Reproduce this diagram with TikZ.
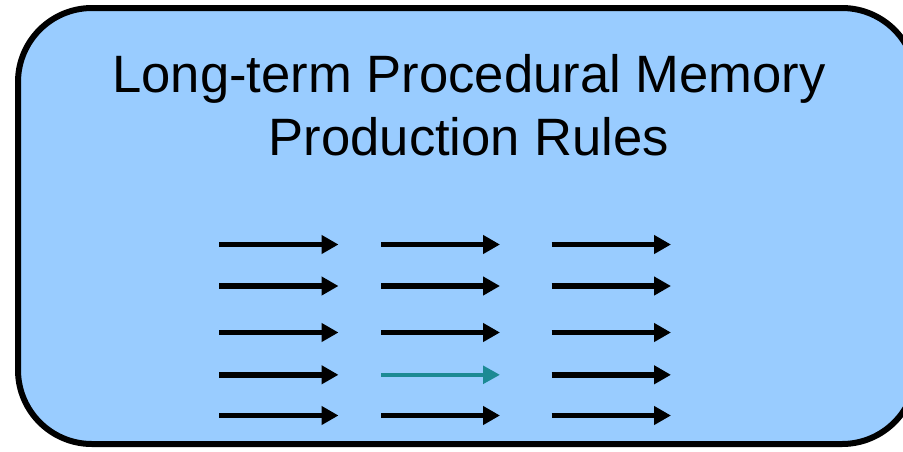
\documentclass[tikz,border=0pt]{standalone}
\usepackage{fontspec}
\setmainfont{Liberation Sans}
\usetikzlibrary{arrows.meta}
\definecolor{memfill}{RGB}{153,204,255}
\definecolor{firedrule}{RGB}{28,138,148}
\tikzset{
  membox/.style={draw=black, line width=6pt, fill=memfill, rounded corners=74pt},
  rule/.style={draw=black, line width=5.5pt,
    -{Triangle[length=17pt, width=18pt]}},
  firedarrow/.style={draw=firedrule, line width=4pt,
    -{Triangle[length=17pt, width=17.5pt]}},
  titletext/.style={font=\fontsize{52.6}{62.8}\selectfont, align=center,
    anchor=base, inner sep=0pt}
}
\begin{document}
\begin{tikzpicture}[x=1pt, y=-1pt]
  \useasboundingbox (0,0) rectangle (903,451);
  \clip (0,0) rectangle (903,451);
  % memory store outline
  \draw[membox] (18,8) rectangle (916,444);
  % the node's base is the baseline of its last line
  \node[titletext] (title) at (469,155.2) {Long-term Procedural Memory\\Production Rules};
  % production rules: three columns by five rows
  \foreach \c/\xs/\xe in {1/219/338.5, 2/381/500, 3/551.5/671}{
    \foreach \r/\y in {1/244.5, 2/286, 3/332.5, 4/374.8, 5/415.5}{
      \coordinate (s\c\r) at (\xs,\y);
      \coordinate (e\c\r) at (\xe,\y);
    }
  }
  \foreach \c in {1,2,3}{
    \foreach \r in {1,2,3,4,5}{
      \ifnum\c\r=24\relax
        \draw[firedarrow] (s\c\r) -- (e\c\r);
      \else
        \draw[rule] (s\c\r) -- (e\c\r);
      \fi
    }
  }
\end{tikzpicture}
\end{document}
